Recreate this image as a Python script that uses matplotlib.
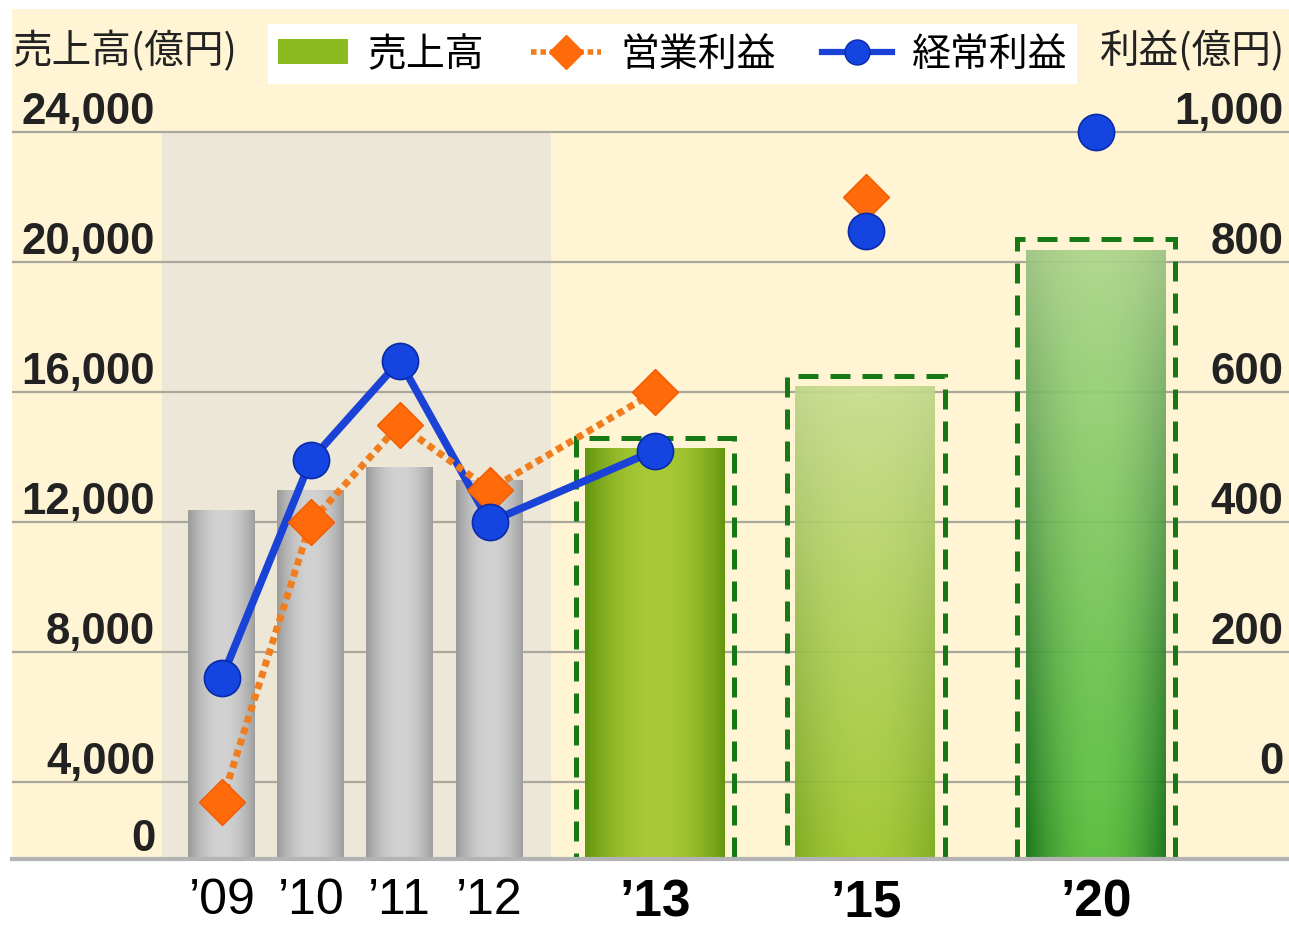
import numpy as np
import matplotlib
matplotlib.use("Agg")
import matplotlib.pyplot as plt
from matplotlib import font_manager
from matplotlib.lines import Line2D
from matplotlib.patches import Patch, Rectangle

# ---- data -------------------------------------------------------------
years = ["’09", "’10", "’11", "’12", "’13", "’15", "’20"]
sales = [12400, 13000, 13700, 13300, 14300, 16200, 20400]          # 売上高 (億円)
operating_profit = [-30, 400, 550, 450, 600, 900, None]             # 営業利益 (億円)
ordinary_profit = [160, 495, 648, 400, 510, 848, 1000]              # 経常利益 (億円)
n_actual = 4          # '09-'12 are results, the rest are plans
n_linked = 5          # profits are joined with a line up to '13

sales_ticks = [0, 4000, 8000, 12000, 16000, 20000, 24000]
profit_ticks = [0, 200, 400, 600, 800, 1000]

# ---- layout -----------------------------------------------------------
x_pos = [0, 1, 2, 3.01, 4.87, 7.24, 9.83]
past_span = (-0.67, 3.70)
xlim = (-2.36, 12.0)
w_past, w_plan, w_box = 0.76, 1.58, 1.78
box_pad = 300

BEIGE = "#fff5d5"
PAST_BG = "#ece7d7"
GRID = "#aaa79d"

jp = ["Noto Sans CJK JP", "DejaVu Sans"]
installed = {f.name for f in font_manager.fontManager.ttflist}
narrow = "Liberation Sans Narrow" if "Liberation Sans Narrow" in installed else "Liberation Sans"

# sales axis is squeezed below 4,000 so profit 0 lines up with sales 4,000
SQUEEZE = 77 / 130


def fwd(v):
    v = np.asarray(v, dtype=float)
    return np.where(v >= 4000, v, 4000 - (4000 - v) * SQUEEZE)


def inv(u):
    u = np.asarray(u, dtype=float)
    return np.where(u >= 4000, u, 4000 - (4000 - u) / SQUEEZE)


def hex_rgb(c):
    return np.array(matplotlib.colors.to_rgb(c))


def gradient(center, edge, top=None, n=64, power=2.0):
    """RGB image: horizontal shading from centre to edges, optional vertical fade."""
    t = np.abs(np.linspace(-1, 1, n)) ** power
    c, e = hex_rgb(center), hex_rgb(edge)
    row = c[None, :] * (1 - t[:, None]) + e[None, :] * t[:, None]
    img = np.repeat(row[None, :, :], n, axis=0)
    if top is not None:
        s = np.linspace(0, 1, n)[:, None, None] ** 1.3
        img = img * (1 - s * 0.75) + hex_rgb(top)[None, None, :] * s * 0.75
    return np.clip(img, 0, 1)


def paint(ax, bar, img, alpha=1.0):
    x0, y0 = bar.get_x(), bar.get_y()
    im = ax.imshow(img, extent=[x0, x0 + bar.get_width(), y0, y0 + bar.get_height()],
                   origin="lower", aspect="auto", interpolation="bicubic",
                   zorder=bar.get_zorder(), alpha=alpha)
    im.set_clip_path(bar)
    bar.set_facecolor("none")


fig = plt.figure(figsize=(12.89, 9.28), dpi=100, facecolor="white")
ax = fig.add_axes([12 / 1289, 68 / 928, 1277 / 1289, 850 / 928])
ax.set_facecolor(BEIGE)
ax.set_yscale("function", functions=(fwd, inv))
y_top = 27785

# shaded band behind the actual results
ax.add_patch(Rectangle((past_span[0], 0), past_span[1] - past_span[0], 24000,
                       facecolor=PAST_BG, edgecolor="none", zorder=0.2))

# bars
styles = [
    gradient("#d2d2d2", "#9c9c9c"),
    gradient("#d2d2d2", "#9c9c9c"),
    gradient("#d2d2d2", "#9c9c9c"),
    gradient("#d2d2d2", "#9c9c9c"),
    gradient("#a9ca36", "#64960f"),
    gradient("#9dc62c", "#78a818", top="#d6e4b0"),
    gradient("#52bc38", "#0d6f12", top="#c9dea6"),
]
for i, (x, v) in enumerate(zip(x_pos, sales)):
    w = w_past if i < n_actual else w_plan
    bar = ax.bar(x, v, width=w, zorder=2, edgecolor="none")[0]
    paint(ax, bar, styles[i], alpha=1.0 if i < 5 else 0.93)
    if i >= n_actual:
        ax.bar(x, v + box_pad, width=w_box, fill=False, edgecolor="#157a15",
               linewidth=3.6, linestyle=(0, (4, 2.4)), zorder=2.5)

ax.set_xlim(*xlim)
ax.set_ylim(0, y_top)

# grid and axes
ax.set_yticks(sales_ticks)
ax.set_yticklabels([f"{t:,}" for t in sales_ticks])
ax.yaxis.grid(True, color=GRID, linewidth=1.6)
ax.set_axisbelow(True)
ax.tick_params(axis="y", length=0, pad=-103, labelsize=31.5)
for lbl in ax.get_yticklabels():
    lbl.set_fontweight("bold")
    lbl.set_fontfamily("Liberation Sans")
    lbl.set_verticalalignment("bottom")
    lbl.set_color("#222222")
for side in ("top", "left", "right"):
    ax.spines[side].set_visible(False)
ax.spines["bottom"].set_color("#b3b3b3")
ax.spines["bottom"].set_linewidth(3)
ax.spines["bottom"].set_zorder(3)

ax.set_xticks(x_pos)
ax.set_xticklabels(years)
ax.tick_params(axis="x", length=0, pad=13)
for i, lbl in enumerate(ax.get_xticklabels()):
    if i < n_actual:
        lbl.set_fontfamily(narrow)
        lbl.set_fontsize(36)
    else:
        lbl.set_fontfamily("Liberation Sans")
        lbl.set_fontweight("bold")
        lbl.set_fontsize(37)

# profit axis
ax2 = ax.twinx()
y0 = float(fwd(0))
ax2.set_ylim((y0 - 4000) / 20, (y_top - 4000) / 20)
ax2.set_yticks(profit_ticks)
ax2.set_yticklabels([f"{t:,}" for t in profit_ticks])
ax2.tick_params(axis="y", length=0, pad=-4.3, labelsize=31.5)
for lbl in ax2.get_yticklabels():
    lbl.set_fontweight("bold")
    lbl.set_fontfamily("Liberation Sans")
    lbl.set_horizontalalignment("right")
    lbl.set_verticalalignment("bottom")
    lbl.set_color("#222222")
for s in ax2.spines.values():
    s.set_visible(False)

ORANGE = "#ff6a0a"
ORANGE_LINE = "#f07d1e"
BLUE = "#1545e0"
BLUE_EDGE = "#0a2aa8"

ax2.plot(x_pos[:n_linked], ordinary_profit[:n_linked], color="#1a42d6",
         linewidth=5.5, solid_capstyle="round", zorder=3)
ax2.plot(x_pos[:n_linked], operating_profit[:n_linked], color=ORANGE_LINE,
         linewidth=5, linestyle=(0, (1, 0.7)), zorder=3.2)

op_x = [x for x, v in zip(x_pos, operating_profit) if v is not None]
op_y = [v for v in operating_profit if v is not None]
ax2.plot(op_x, op_y, linestyle="none", marker="D", markersize=23,
         markerfacecolor=ORANGE, markeredgecolor="#f25a00", markeredgewidth=1, zorder=4)
ax2.plot(x_pos, ordinary_profit, linestyle="none", marker="o", markersize=26,
         markerfacecolor=BLUE, markeredgecolor=BLUE_EDGE, markeredgewidth=1.2, zorder=4.2)

# legend
handles = [
    Patch(facecolor="#8cbb20", edgecolor="none"),
    Line2D([], [], color=ORANGE_LINE, linewidth=4, linestyle=(0, (1, 0.7)),
           marker="D", markersize=17, markerfacecolor=ORANGE, markeredgecolor=ORANGE),
    Line2D([], [], color="#1a42d6", linewidth=4.5, marker="o", markersize=18,
           markerfacecolor=BLUE, markeredgecolor=BLUE_EDGE),
]
leg = ax2.legend(handles, ["売上高", "営業利益", "経常利益"], ncol=3,
                 loc="center", bbox_to_anchor=((265 + 1080) / 2 / 1289, 1 - 55 / 928),
                 bbox_transform=fig.transFigure, frameon=True, fancybox=False,
                 facecolor="white", edgecolor="none", framealpha=1,
                 prop={"family": jp, "size": 28}, handlelength=1.8,
                 handleheight=0.6, handletextpad=0.5, columnspacing=1.2,
                 borderpad=0.25, borderaxespad=0)
leg.set_zorder(10)

fig.text(12 / 1289, 1 - 52 / 928, "売上高(億円)", ha="left", va="center",
         fontsize=28.5, family=jp, color="#222222")
fig.text(1285 / 1289, 1 - 52 / 928, "利益(億円)", ha="right", va="center",
         fontsize=28.5, family=jp, color="#222222")

fig.savefig("out.png", dpi=100, facecolor="white")
